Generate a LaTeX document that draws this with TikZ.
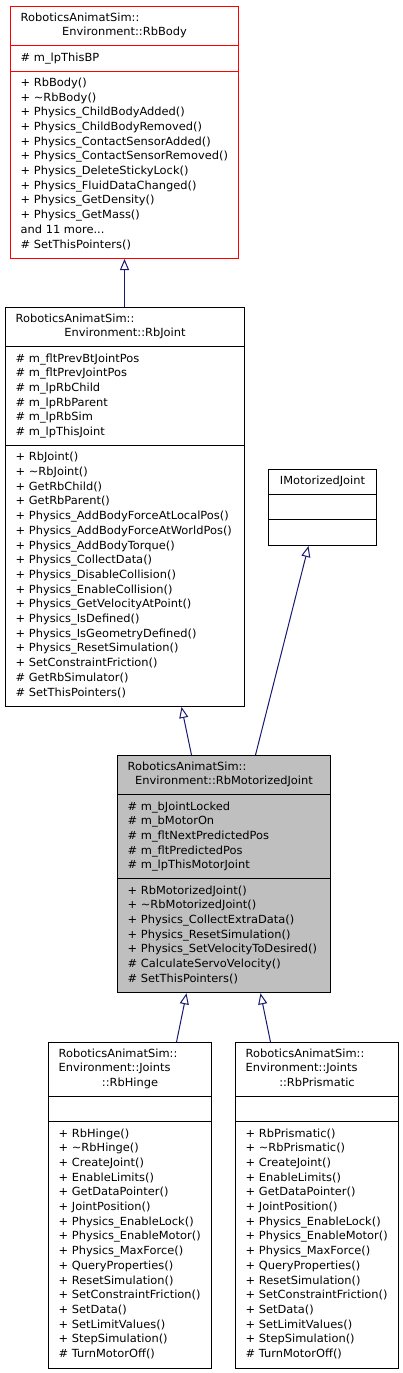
\documentclass[tikz,border=0pt]{standalone}
\usepackage{fontspec}
\setmainfont{DejaVu Sans}[FakeStretch=1.02]
\usetikzlibrary{arrows.meta}
\definecolor{edgeblue}{HTML}{191970}
\definecolor{basered}{HTML}{FF0000}
\definecolor{focusgrey}{HTML}{BFBFBF}

\begin{document}
\begin{tikzpicture}[x=1pt, y=-1pt]
\tikzstyle{classbox} = [rectangle, draw=black, line width=1pt, inner sep=0pt, anchor=north west]
\tikzstyle{members} = [anchor=north west, align=left, inner sep=0pt, font=\fontsize{11.2}{14.7}\selectfont]
\tikzstyle{classname} = [anchor=base, inner sep=0pt, font=\fontsize{11.2}{14.7}\selectfont]
\tikzstyle{divider} = [line width=1pt]
\tikzstyle{inherit} = [draw=edgeblue, line width=1pt, -{Triangle[open, length=11pt, width=9pt]}]

\useasboundingbox (0,0) rectangle (403,1373);

% RbBody
\node (body) [classbox, draw=basered, minimum width=228pt, minimum height=252pt] at (10,6) {};
\draw[divider, basered] ([yshift=-39.9pt]body.north west) -- ([yshift=-39.9pt]body.north east);
\draw[divider, basered] ([yshift=-65.1pt]body.north west) -- ([yshift=-65.1pt]body.north east);
\node (bodytitle) [members] at ([xshift=10.5pt, yshift=-6.5pt]body.north west) {RoboticsAnimatSim::};
\node (bodyname) [classname] at ([yshift=-29.7pt]body.north) {Environment::RbBody};
\node (bodyattr) [members] at ([xshift=10.5pt, yshift=-46.4pt]body.north west) {\# m\_lpThisBP};
\node (bodyops) [members] at ([xshift=10.5pt, yshift=-71.6pt]body.north west) {+ RbBody()\\+ \textasciitilde RbBody()\\+ Physics\_ChildBodyAdded()\\+ Physics\_ChildBodyRemoved()\\+ Physics\_ContactSensorAdded()\\+ Physics\_ContactSensorRemoved()\\+ Physics\_DeleteStickyLock()\\+ Physics\_FluidDataChanged()\\+ Physics\_GetDensity()\\+ Physics\_GetMass()\\and 11 more...\\\# SetThisPointers()};

% RbJoint
\node (joint) [classbox, minimum width=239pt, minimum height=399pt] at (5,307) {};
\draw[divider] ([yshift=-39.9pt]joint.north west) -- ([yshift=-39.9pt]joint.north east);
\draw[divider] ([yshift=-138.6pt]joint.north west) -- ([yshift=-138.6pt]joint.north east);
\node (jointtitle) [members] at ([xshift=10.5pt, yshift=-6.5pt]joint.north west) {RoboticsAnimatSim::};
\node (jointname) [classname] at ([yshift=-29.7pt]joint.north) {Environment::RbJoint};
\node (jointattr) [members] at ([xshift=10.5pt, yshift=-46.4pt]joint.north west) {\# m\_fltPrevBtJointPos\\\# m\_fltPrevJointPos\\\# m\_lpRbChild\\\# m\_lpRbParent\\\# m\_lpRbSim\\\# m\_lpThisJoint};
\node (jointops) [members] at ([xshift=10.5pt, yshift=-145.1pt]joint.north west) {+ RbJoint()\\+ \textasciitilde RbJoint()\\+ GetRbChild()\\+ GetRbParent()\\+ Physics\_AddBodyForceAtLocalPos()\\+ Physics\_AddBodyForceAtWorldPos()\\+ Physics\_AddBodyTorque()\\+ Physics\_CollectData()\\+ Physics\_DisableCollision()\\+ Physics\_EnableCollision()\\+ Physics\_GetVelocityAtPoint()\\+ Physics\_IsDefined()\\+ Physics\_IsGeometryDefined()\\+ Physics\_ResetSimulation()\\+ SetConstraintFriction()\\\# GetRbSimulator()\\\# SetThisPointers()};

% IMotorizedJoint
\node (imotor) [classbox, minimum width=108pt, minimum height=76pt] at (268,469) {};
\draw[divider] ([yshift=-25.2pt]imotor.north west) -- ([yshift=-25.2pt]imotor.north east);
\draw[divider] ([yshift=-50.4pt]imotor.north west) -- ([yshift=-50.4pt]imotor.north east);
\node (imotorname) [classname] at ([yshift=-15pt]imotor.north) {IMotorizedJoint};

% RbMotorizedJoint
\node (motor) [classbox, fill=focusgrey, minimum width=213pt, minimum height=237.3pt] at (117,755) {};
\draw[divider] ([yshift=-39.9pt]motor.north west) -- ([yshift=-39.9pt]motor.north east);
\draw[divider] ([yshift=-123.9pt]motor.north west) -- ([yshift=-123.9pt]motor.north east);
\node (motortitle) [members] at ([xshift=10.5pt, yshift=-6.5pt]motor.north west) {RoboticsAnimatSim::};
\node (motorname) [classname] at ([yshift=-29.7pt]motor.north) {Environment::RbMotorizedJoint};
\node (motorattr) [members] at ([xshift=10.5pt, yshift=-46.4pt]motor.north west) {\# m\_bJointLocked\\\# m\_bMotorOn\\\# m\_fltNextPredictedPos\\\# m\_fltPredictedPos\\\# m\_lpThisMotorJoint};
\node (motorops) [members] at ([xshift=10.5pt, yshift=-130.4pt]motor.north west) {+ RbMotorizedJoint()\\+ \textasciitilde RbMotorizedJoint()\\+ Physics\_CollectExtraData()\\+ Physics\_ResetSimulation()\\+ Physics\_SetVelocityToDesired()\\\# CalculateServoVelocity()\\\# SetThisPointers()};

% RbHinge
\node (hinge) [classbox, minimum width=163pt, minimum height=325.5pt] at (48,1042) {};
\draw[divider] ([yshift=-54.6pt]hinge.north west) -- ([yshift=-54.6pt]hinge.north east);
\draw[divider] ([yshift=-79.8pt]hinge.north west) -- ([yshift=-79.8pt]hinge.north east);
\node (hingetitle) [members] at ([xshift=10.5pt, yshift=-6.5pt]hinge.north west) {RoboticsAnimatSim::\\Environment::Joints};
\node (hingename) [classname] at ([yshift=-44.4pt]hinge.north) {::RbHinge};
\node (hingeops) [members] at ([xshift=10.5pt, yshift=-86.3pt]hinge.north west) {+ RbHinge()\\+ \textasciitilde RbHinge()\\+ CreateJoint()\\+ EnableLimits()\\+ GetDataPointer()\\+ JointPosition()\\+ Physics\_EnableLock()\\+ Physics\_EnableMotor()\\+ Physics\_MaxForce()\\+ QueryProperties()\\+ ResetSimulation()\\+ SetConstraintFriction()\\+ SetData()\\+ SetLimitValues()\\+ StepSimulation()\\\# TurnMotorOff()};

% RbPrismatic
\node (prism) [classbox, minimum width=163pt, minimum height=325.5pt] at (235,1042) {};
\draw[divider] ([yshift=-54.6pt]prism.north west) -- ([yshift=-54.6pt]prism.north east);
\draw[divider] ([yshift=-79.8pt]prism.north west) -- ([yshift=-79.8pt]prism.north east);
\node (prismtitle) [members] at ([xshift=10.5pt, yshift=-6.5pt]prism.north west) {RoboticsAnimatSim::\\Environment::Joints};
\node (prismname) [classname] at ([yshift=-44.4pt]prism.north) {::RbPrismatic};
\node (prismops) [members] at ([xshift=10.5pt, yshift=-86.3pt]prism.north west) {+ RbPrismatic()\\+ \textasciitilde RbPrismatic()\\+ CreateJoint()\\+ EnableLimits()\\+ GetDataPointer()\\+ JointPosition()\\+ Physics\_EnableLock()\\+ Physics\_EnableMotor()\\+ Physics\_MaxForce()\\+ QueryProperties()\\+ ResetSimulation()\\+ SetConstraintFriction()\\+ SetData()\\+ SetLimitValues()\\+ StepSimulation()\\\# TurnMotorOff()};

% inheritance
\draw[inherit] (joint.north -| body.south) -- (body.south);
\draw[inherit] ([xshift=-32.5pt]motor.north) -- ([xshift=56.5pt]joint.south);
\draw[inherit] ([xshift=31.5pt]motor.north) -- ([xshift=-14pt]imotor.south);
\draw[inherit] ([xshift=46.5pt]hinge.north) -- ([xshift=-37.5pt]motor.south);
\draw[inherit] ([xshift=-46.5pt]prism.north) -- ([xshift=36.5pt]motor.south);

\end{tikzpicture}
\end{document}
